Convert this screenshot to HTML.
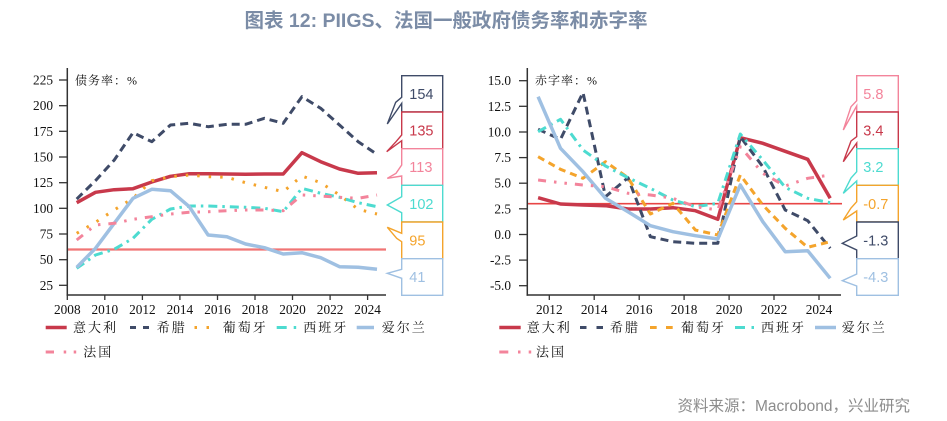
<!DOCTYPE html>
<html><head><meta charset="utf-8"><style>
html,body{margin:0;padding:0;background:#fff;}
svg{display:block;}
.ax{font-family:"Liberation Serif","Noto Serif CJK SC",serif;font-size:13.3px;fill:#111;}
.lg{font-family:"Liberation Serif","Noto Serif CJK SC",serif;font-size:13px;fill:#111;letter-spacing:2px;}
.lb{font-family:"Liberation Sans","Noto Sans CJK SC",sans-serif;font-size:14.5px;}
</style></head><body>
<svg width="947" height="421" viewBox="0 0 947 421" xmlns="http://www.w3.org/2000/svg">
<rect width="947" height="421" fill="#fff"/>
<text x="446" y="27" text-anchor="middle" font-family="Liberation Sans, Noto Sans CJK SC, sans-serif" font-size="19.5" font-weight="bold" fill="#7b8ca6">图表 12: PIIGS、法国一般政府债务率和赤字率</text>

<!-- LEFT CHART -->
<g class="ax" text-anchor="end">
<text x="53" y="84.5">225</text><text x="53" y="110.2">200</text><text x="53" y="135.8">175</text>
<text x="53" y="161.5">150</text><text x="53" y="187.2">125</text><text x="53" y="212.8">100</text>
<text x="53" y="238.5">75</text><text x="53" y="264.2">50</text><text x="53" y="289.8">25</text>
</g>
<g stroke="#333" stroke-width="1.3">
<line x1="59" y1="80" x2="67" y2="80"/><line x1="59" y1="105.7" x2="67" y2="105.7"/><line x1="59" y1="131.3" x2="67" y2="131.3"/>
<line x1="59" y1="157" x2="67" y2="157"/><line x1="59" y1="182.7" x2="67" y2="182.7"/><line x1="59" y1="208.3" x2="67" y2="208.3"/>
<line x1="59" y1="234" x2="67" y2="234"/><line x1="59" y1="259.7" x2="67" y2="259.7"/><line x1="59" y1="285.3" x2="67" y2="285.3"/>
<line x1="67.3" y1="295" x2="67.3" y2="300"/><line x1="104.8" y1="295" x2="104.8" y2="300"/><line x1="142.4" y1="295" x2="142.4" y2="300"/>
<line x1="179.9" y1="295" x2="179.9" y2="300"/><line x1="217.5" y1="295" x2="217.5" y2="300"/><line x1="255" y1="295" x2="255" y2="300"/>
<line x1="292.5" y1="295" x2="292.5" y2="300"/><line x1="330.1" y1="295" x2="330.1" y2="300"/><line x1="367.6" y1="295" x2="367.6" y2="300"/>
</g>
<g class="ax" text-anchor="middle">
<text x="67.3" y="314">2008</text><text x="104.8" y="314">2010</text><text x="142.4" y="314">2012</text>
<text x="179.9" y="314">2014</text><text x="217.5" y="314">2016</text><text x="255" y="314">2018</text>
<text x="292.5" y="314">2020</text><text x="330.1" y="314">2022</text><text x="367.6" y="314">2024</text>
</g>
<text x="75" y="84.5" class="lg" style="font-size:12px;letter-spacing:1px">债务率：%</text>
<line x1="67" y1="249.5" x2="386" y2="249.5" stroke="#f07575" stroke-width="2.2"/>
<g fill="none" stroke-linejoin="round">
<polyline stroke="#c8394b" stroke-width="3.5" points="76.7,202.7 95.5,192.3 114.2,189.7 133,188.7 151.8,182 170.5,176.3 189.3,173.7 208.1,173.7 226.9,174 245.6,174.3 264.4,174 283.2,174 301.9,152.7 320.7,161.7 339.5,169 358.2,173.3 377,172.7"/>
<polyline stroke="#3f4b68" stroke-width="3" stroke-dasharray="8 5" points="76.7,199.1 95.5,180.6 114.2,160.1 133,132.7 151.8,141.7 170.5,125 189.3,123.3 208.1,126.7 226.9,124.3 245.6,124.3 264.4,118.3 283.2,123.3 301.9,96.7 320.7,108.3 339.5,125 358.2,141.7 377,154.3"/>
<polyline stroke="#f4a42c" stroke-width="3" stroke-dasharray="2.5 9" points="76.7,233.3 95.5,222.3 114.2,210 133,198.3 151.8,180.7 170.5,176.7 189.3,175 208.1,176.7 226.9,177.3 245.6,182.7 264.4,187.3 283.2,191.7 301.9,176 320.7,182.7 339.5,195 358.2,209.3 377,214"/>
<polyline stroke="#4ddbd0" stroke-width="3" stroke-dasharray="9 5 2.5 5" points="76.7,268.3 95.5,255 114.2,249.3 133,238.3 151.8,219.3 170.5,209 189.3,206 208.1,206 226.9,206.7 245.6,207.3 264.4,208.3 283.2,211.7 301.9,188.3 320.7,193.3 339.5,197.3 358.2,202.7 377,206.7"/>
<polyline stroke="#9fc0e2" stroke-width="3.5" points="76.7,267.3 95.5,248.3 114.2,223.3 133,198.3 151.8,189.3 170.5,190.7 189.3,206.7 208.1,235 226.9,236.7 245.6,244 264.4,247.7 283.2,254 301.9,252.7 320.7,257.7 339.5,266.7 358.2,267.3 377,269.3"/>
<polyline stroke="#f3849b" stroke-width="3" stroke-dasharray="8 8 2.5 8 2.5 8" points="76.7,240 95.5,225 114.2,223.3 133,219.3 151.8,216.7 170.5,214 189.3,212.3 208.1,211.7 226.9,210.7 245.6,210 264.4,210 283.2,210.7 301.9,195 320.7,196 339.5,197.3 358.2,198.3 377,195"/>
</g>
<g stroke="#333" stroke-width="1.5">
<line x1="67.3" y1="68" x2="67.3" y2="295.7"/>
<line x1="66.5" y1="295" x2="386" y2="295"/>
</g>
<!-- left labels -->
<g fill="#fff" stroke-width="1.4">
<path stroke="#3f4b68" d="M401.7,75.7 H442.7 V112 H401.7 V103.3 L387.3,124 L395.7,102.3 L401.7,97.3 Z"/>
<path stroke="#c8394b" d="M401.7,112 H442.7 V148.7 H401.7 V140.7 L386.7,151.7 L396,141.7 L401.7,135 Z"/>
<path stroke="#f3849b" d="M401.7,148.7 H442.7 V185.3 H401.7 V176 L387.3,178.3 L396,173.3 L401.7,165 Z"/>
<path stroke="#4ddbd0" d="M401.7,185.3 H442.7 V222 H401.7 V212.7 L387.3,205 L401.7,196.7 Z"/>
<path stroke="#f4a42c" d="M401.7,222 H442.7 V258.7 H401.7 V241.7 L396.7,238.3 L387.3,227.3 L401.7,233.3 Z"/>
<path stroke="#9fc0e2" d="M401.7,258.7 H442.7 V295.3 H401.7 V278.3 L387.3,273.3 L401.7,269.3 Z"/>
</g>
<g class="lb">
<text x="409.3" y="99" fill="#3f4b68">154</text>
<text x="409.3" y="135.6" fill="#c8394b">135</text>
<text x="409.3" y="172.2" fill="#f3849b">113</text>
<text x="409.3" y="208.9" fill="#4ddbd0">102</text>
<text x="409.3" y="245.5" fill="#f4a42c">95</text>
<text x="409.3" y="282.2" fill="#9fc0e2">41</text>
</g>
<!-- left legend -->
<line x1="45.7" y1="327.5" x2="66.7" y2="327.5" stroke="#c8394b" stroke-width="3.5"/>
<text x="73" y="332" class="lg">意大利</text>
<line x1="130" y1="327.5" x2="150" y2="327.5" stroke="#3f4b68" stroke-width="3" stroke-dasharray="6 7"/>
<text x="156.7" y="332" class="lg">希腊</text>
<line x1="194.5" y1="327.5" x2="210" y2="327.5" stroke="#f4a42c" stroke-width="3" stroke-dasharray="2.5 9.5"/>
<text x="222.7" y="332" class="lg">葡萄牙</text>
<line x1="276.7" y1="327.5" x2="296.5" y2="327.5" stroke="#4ddbd0" stroke-width="3" stroke-dasharray="10 7 2.5 5"/>
<text x="303.3" y="332" class="lg">西班牙</text>
<line x1="356.7" y1="327.5" x2="374" y2="327.5" stroke="#9fc0e2" stroke-width="3.5"/>
<text x="381.7" y="332" class="lg">爱尔兰</text>
<line x1="45.7" y1="352" x2="77" y2="352" stroke="#f3849b" stroke-width="3" stroke-dasharray="8.3 9.7 2.5 7.5 2.5 10"/>
<text x="83.3" y="356.5" class="lg">法国</text>

<!-- RIGHT CHART -->
<g class="ax" text-anchor="end">
<text x="511" y="85.2">15.0</text><text x="511" y="110.8">12.5</text><text x="511" y="136.5">10.0</text>
<text x="511" y="162.1">7.5</text><text x="511" y="187.7">5.0</text><text x="511" y="213.3">2.5</text>
<text x="511" y="239">0.0</text><text x="511" y="264.6">-2.5</text><text x="511" y="290.2">-5.0</text>
</g>
<g stroke="#333" stroke-width="1.3">
<line x1="519" y1="80.7" x2="527" y2="80.7"/><line x1="519" y1="106.3" x2="527" y2="106.3"/><line x1="519" y1="132" x2="527" y2="132"/>
<line x1="519" y1="157.6" x2="527" y2="157.6"/><line x1="519" y1="183.2" x2="527" y2="183.2"/><line x1="519" y1="208.8" x2="527" y2="208.8"/>
<line x1="519" y1="234.5" x2="527" y2="234.5"/><line x1="519" y1="260.1" x2="527" y2="260.1"/><line x1="519" y1="285.7" x2="527" y2="285.7"/>
<line x1="549.3" y1="295" x2="549.3" y2="300"/><line x1="594.2" y1="295" x2="594.2" y2="300"/><line x1="639.2" y1="295" x2="639.2" y2="300"/>
<line x1="684.1" y1="295" x2="684.1" y2="300"/><line x1="729.1" y1="295" x2="729.1" y2="300"/><line x1="774" y1="295" x2="774" y2="300"/>
<line x1="819" y1="295" x2="819" y2="300"/>
</g>
<g class="ax" text-anchor="middle">
<text x="549.3" y="314">2012</text><text x="594.2" y="314">2014</text><text x="639.2" y="314">2016</text>
<text x="684.1" y="314">2018</text><text x="729.1" y="314">2020</text><text x="774" y="314">2022</text>
<text x="819" y="314">2024</text>
</g>
<text x="535" y="84.5" class="lg" style="font-size:12px;letter-spacing:1px">赤字率：%</text>
<line x1="527" y1="203.7" x2="842" y2="203.7" stroke="#e84545" stroke-width="1.6"/>
<g fill="none" stroke-linejoin="round">
<polyline stroke="#c8394b" stroke-width="3.5" points="538.1,197.7 560.5,204 583,205 605.5,205.7 628,209 650.4,209 672.9,207.7 695.4,210.7 717.8,219.3 740.3,137.7 762.8,143.3 785.2,151.3 807.7,159.3 830.2,198.3"/>
<polyline stroke="#3f4b68" stroke-width="3" stroke-dasharray="8 5" points="538.1,129.3 560.5,139.3 583,92.5 605.5,196.7 628,177.7 650.4,236.7 672.9,241.7 695.4,243.3 717.8,243.3 740.3,136.7 762.8,166.7 785.2,210 807.7,220.7 830.2,248.3"/>
<polyline stroke="#f4a42c" stroke-width="3" stroke-dasharray="7 5" points="538.1,156.7 560.5,169.3 583,178.3 605.5,161.7 628,177.7 650.4,214 672.9,203.3 695.4,230 717.8,235 740.3,175 762.8,205 785.2,228.3 807.7,247.3 830.2,241.7"/>
<polyline stroke="#4ddbd0" stroke-width="3" stroke-dasharray="9 5 2.5 5" points="538.1,131.7 560.5,119.3 583,150 605.5,166 628,177.7 650.4,188.3 672.9,200 695.4,206.7 717.8,203.3 740.3,134 762.8,160 785.2,187.3 807.7,198.3 830.2,202.7"/>
<polyline stroke="#9fc0e2" stroke-width="3.5" points="538.1,96.7 560.5,148.3 583,171.7 605.5,198.3 628,211.7 650.4,225.7 672.9,231.7 695.4,235.7 717.8,239 740.3,185 762.8,221.7 785.2,251.7 807.7,250.7 830.2,278.3"/>
<polyline stroke="#f3849b" stroke-width="3" stroke-dasharray="8 8 2.5 8 2.5 8" points="538.1,180 560.5,182.7 583,185 605.5,186.7 628,193.3 650.4,195 672.9,198.3 695.4,206.7 717.8,210 740.3,146.7 762.8,173.3 785.2,186 807.7,178.3 830.2,175"/>
</g>
<g stroke="#333" stroke-width="1.5">
<line x1="527.3" y1="68" x2="527.3" y2="295.7"/>
<line x1="526.5" y1="295" x2="841" y2="295"/>
</g>
<!-- right labels -->
<g fill="#fff" stroke-width="1.4">
<path stroke="#f3849b" d="M856.7,75.7 H898.3 V112 H856.7 V106 L843.3,130 L851,106.7 L856.7,100.7 Z"/>
<path stroke="#c8394b" d="M856.7,112 H898.3 V148.7 H856.7 V143 L843.3,161.7 L851,141 L856.7,136.7 Z"/>
<path stroke="#4ddbd0" d="M856.7,148.7 H898.3 V185.3 H856.7 V181 L843.3,193.3 L851,178 L856.7,171.7 Z"/>
<path stroke="#f4a42c" d="M856.7,185.3 H898.3 V222 H856.7 V211 L843.3,220 L851,208 L856.7,201.7 Z"/>
<path stroke="#3f4b68" d="M856.7,222 H898.3 V258.7 H856.7 V250 L842.3,243.3 L856.7,236 Z"/>
<path stroke="#9fc0e2" d="M856.7,258.7 H898.3 V295.3 H856.7 V286 L842.3,280.7 L856.7,274 Z"/>
</g>
<g class="lb">
<text x="863.3" y="99" fill="#f3849b">5.8</text>
<text x="863.3" y="135.6" fill="#c8394b">3.4</text>
<text x="863.3" y="172.2" fill="#4ddbd0">3.2</text>
<text x="863.3" y="208.9" fill="#f4a42c">-0.7</text>
<text x="863.3" y="245.5" fill="#3f4b68">-1.3</text>
<text x="863.3" y="282.2" fill="#9fc0e2">-4.3</text>
</g>
<!-- right legend -->
<line x1="499.3" y1="327.5" x2="520.7" y2="327.5" stroke="#c8394b" stroke-width="3.5"/>
<text x="526.7" y="332" class="lg">意大利</text>
<line x1="580" y1="327.5" x2="604" y2="327.5" stroke="#3f4b68" stroke-width="3" stroke-dasharray="6.5 10"/>
<text x="610" y="332" class="lg">希腊</text>
<line x1="650" y1="327.5" x2="673.3" y2="327.5" stroke="#f4a42c" stroke-width="3" stroke-dasharray="6.7 9.3"/>
<text x="681" y="332" class="lg">葡萄牙</text>
<line x1="735" y1="327.5" x2="754" y2="327.5" stroke="#4ddbd0" stroke-width="3" stroke-dasharray="10 6.5 2.5 5"/>
<text x="761" y="332" class="lg">西班牙</text>
<line x1="815" y1="327.5" x2="836" y2="327.5" stroke="#9fc0e2" stroke-width="3.5"/>
<text x="841.7" y="332" class="lg">爱尔兰</text>
<line x1="499.3" y1="352" x2="531.3" y2="352" stroke="#f3849b" stroke-width="3" stroke-dasharray="9 9.7 2.5 8.2 2.5 10"/>
<text x="536" y="356.5" class="lg">法国</text>

<text x="910" y="411" text-anchor="end" font-family="Liberation Sans, Noto Sans CJK SC, sans-serif" font-size="15.5" fill="#8c8c8c">资料来源：Macrobond，兴业研究</text>
</svg>
</body></html>
